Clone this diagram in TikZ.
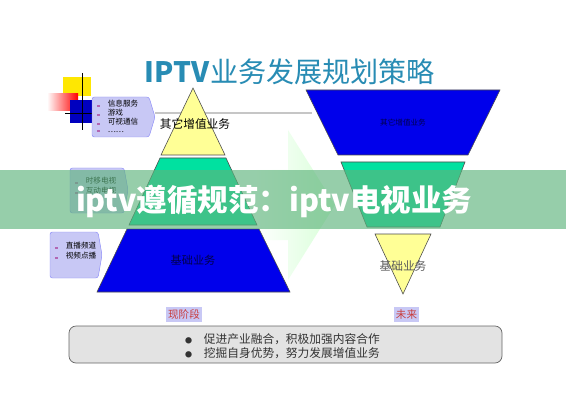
\documentclass[tikz,border=0pt]{standalone}
\usepackage{fontspec}
\setmainfont{Noto Sans CJK SC}
\definecolor{titleblue}{RGB}{40,140,180}
\definecolor{pyrblue}{RGB}{0,0,235}
\definecolor{pyrgreen}{RGB}{0,225,160}
\definecolor{pyryellow}{RGB}{255,255,150}
\definecolor{boxlilac}{RGB}{200,200,245}
\definecolor{tagred}{RGB}{200,60,60}
\definecolor{bandgreen}{RGB}{95,180,125}
\newcommand{\sqbul}{\textcolor{violet!60}{\rule{2pt}{2pt}}\hspace{7pt}}
\newcommand{\bigbul}{{\fontsize{6}{6}\selectfont ●}\hspace{10pt}}
\tikzset{
  layer/.style={draw=black!70, line width=0.5pt},
  listbox/.style={fill=boxlilac, draw=boxlilac!70!blue, rounded corners=2pt},
  tag/.style={fill=boxlilac, text=tagred, inner sep=2pt, font=\fontsize{9}{10}\selectfont}
}
\begin{document}
\begin{tikzpicture}[x=0.03cm, y=-0.03cm]
  \useasboundingbox (0,0) rectangle (566,400);
  \fill[white] (0,0) rectangle (566,400);
  % title and rule
  \node[text=titleblue] (title) at (290,72) {\fontsize{24}{26}\selectfont\textbf{IPTV}业务发展规划策略};
  \draw[gray!45, line width=1.2pt] (155,113) -- (312,113);
  % corner decoration
  \fill[yellow!90!orange] (63,77) rectangle (91,96);
  \shade[left color=white, right color=red] (47,94) rectangle (78,111);
  \fill[blue!75!black] (70,100) rectangle (94,123);
  \draw[black, line width=0.8pt] (82,73) -- (82,130);
  \draw[black, line width=0.8pt] (65,113) -- (100,113);
  % faint arrow between the pyramids
  \shade[left color=white, right color=green!30, opacity=0.5]
    (255,170) -- (288,170) -- (288,130) -- (335,205) -- (288,280) -- (288,240) -- (255,240) -- cycle;
  % list boxes
  \fill[listbox] (92,97) -- (149,97) -- (155,117) -- (149,137) -- (92,137) -- cycle;
  \fill[listbox] (70,168) -- (124,168) -- (128,190) -- (124,213) -- (70,213) -- cycle;
  \fill[listbox] (50,232) -- (98,232) -- (102,255) -- (98,278) -- (50,278) -- cycle;
  \begin{scope}[every node/.style={anchor=west, inner sep=0pt, font=\fontsize{6.5}{7}\selectfont}]
    \node (info) at (97,104) {\sqbul 信息服务};
    \node (game) at (97,113) {\sqbul 游戏};
    \node (video) at (97,122) {\sqbul 可视通信};
    \node (more) at (97,131) {\sqbul ……};
    \node (shift) at (75,181) {\sqbul 时移电视};
    \node (inter) at (75,191) {\sqbul 互动电视};
    \node (live) at (55,246) {\sqbul 直播频道};
    \node (vod) at (55,256) {\sqbul 视频点播};
  \end{scope}
  % present pyramid
  \begin{scope}
    \filldraw[layer, fill=pyryellow] (193,88) -- (225,155) -- (161,155) -- cycle;
    \filldraw[layer, fill=pyrgreen] (160,158) -- (226,158) -- (257,225) -- (129,225) -- cycle;
    \filldraw[layer, fill=pyrblue] (127,229) -- (259,229) -- (290,292) -- (97,292) -- cycle;
    \node[font=\fontsize{10}{11}\selectfont] (valueL) at (195,124) {其它增值业务};
    \node[font=\fontsize{9.5}{10}\selectfont, text=blue!30!black] (baseL) at (193,260) {基础业务};
  \end{scope}
  % future pyramid
  \begin{scope}
    \filldraw[layer, fill=pyrblue] (306,90) -- (500,90) -- (468,155) -- (338,155) -- cycle;
    \filldraw[layer, fill=pyrgreen] (341,162) -- (465,162) -- (440,227) -- (367,227) -- cycle;
    \filldraw[layer, fill=pyryellow] (375,234) -- (431,234) -- (403,294) -- cycle;
    \node[font=\fontsize{6.5}{7}\selectfont, text=blue!30!black] (valueR) at (403,123) {其它增值业务};
    \node[font=\fontsize{10}{11}\selectfont, text=black!65] (baseR) at (403,266) {基础业务};
  \end{scope}
  % stage tags
  \node[tag] (now) at (184,314.5) {现阶段};
  \node[tag] (future) at (406.5,314.5) {未来};
  % summary box
  \filldraw[fill=gray!22, draw=black!60, rounded corners=6pt, line width=0.6pt] (69,326) rectangle (502,363);
  \begin{scope}[every node/.style={anchor=west, inner sep=0pt, font=\fontsize{10}{11}\selectfont, text=black!80}]
    \node (pointA) at (185,339) {\bigbul 促进产业融合，积极加强内容合作};
    \node (pointB) at (185,353) {\bigbul 挖掘自身优势，努力发展增值业务};
  \end{scope}
  % banner
  \fill[bandgreen, opacity=0.65] (0,170) rectangle (566,229);
  \node[text=white, font=\fontsize{26}{28}\selectfont\bfseries] (banner) at (274,201) {iptv遵循规范：iptv电视业务};
\end{tikzpicture}
\end{document}
